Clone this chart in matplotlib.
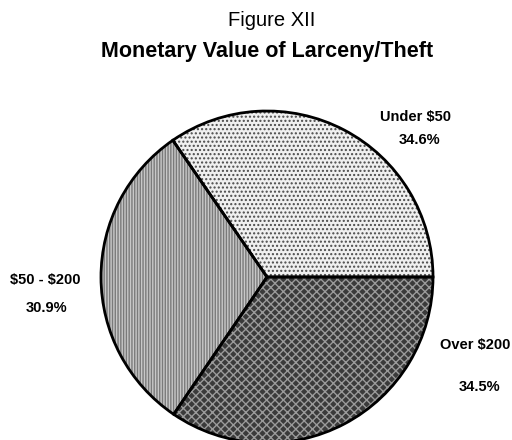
import matplotlib
matplotlib.use("Agg")
import matplotlib.pyplot as plt

# Data
categories = ["Under $50", "$50 - $200", "Over $200"]
percentages = [34.6, 30.9, 34.5]
pct_labels = ["34.6%", "30.9%", "34.5%"]
title_line1 = "Figure XII"
title_line2 = "Monetary Value of Larceny/Theft"

face_colors = ["#f0f0f0", "#c8c8c8", "#3a3a3a"]
hatch_colors = ["#4a4a4a", "#7a7a7a", "#9a9a9a"]
hatches = ["....", "||||||", "xxxx"]

plt.rcParams['font.family'] = ['Liberation Sans', 'DejaVu Sans']

W, H = 512, 440
fig = plt.figure(figsize=(W / 100, H / 100), dpi=100)
ax = fig.add_axes([0, 0, 1, 1])

center = (267, H - 277)
radius = 166

# fill + hatch layer
wedges, _ = ax.pie(percentages, startangle=0, counterclock=True,
                   center=center, radius=radius, frame=True,
                   colors=face_colors,
                   wedgeprops=dict(linewidth=0))
for w, hc, hp in zip(wedges, hatch_colors, hatches):
    w.set_hatch(hp)
    w.set_edgecolor(hc)
    w.set_linewidth(0)

# outline layer
ax.pie(percentages, startangle=0, counterclock=True,
       center=center, radius=radius, frame=True,
       colors=["none"] * 3,
       wedgeprops=dict(linewidth=2.0, edgecolor="black", fill=False))

ax.set_xlim(0, W)
ax.set_ylim(0, H)
ax.set_aspect('equal')
ax.axis('off')

# Titles
fig.text(272 / W, 1 - 20 / H, title_line1, ha='center', va='center',
         fontsize=14.5, parse_math=False)
fig.text(267 / W, 1 - 52 / H, title_line2, ha='center', va='center',
         fontsize=15.5, fontweight='bold', parse_math=False)

# Labels (positions in pixel space)
label_pos = [(416, 117), (45, 280), (475, 345)]
pct_pos = [(420, 140), (47, 308), (480, 387)]
for cat, pl, (lx, ly), (px, py) in zip(categories, pct_labels, label_pos, pct_pos):
    ax.text(lx, H - ly, cat, ha='center', va='center', fontsize=10.5,
            fontweight='bold', parse_math=False)
    ax.text(px, H - py, pl, ha='center', va='center', fontsize=10.5,
            fontweight='bold', parse_math=False)

fig.savefig("out.png", dpi=100)
